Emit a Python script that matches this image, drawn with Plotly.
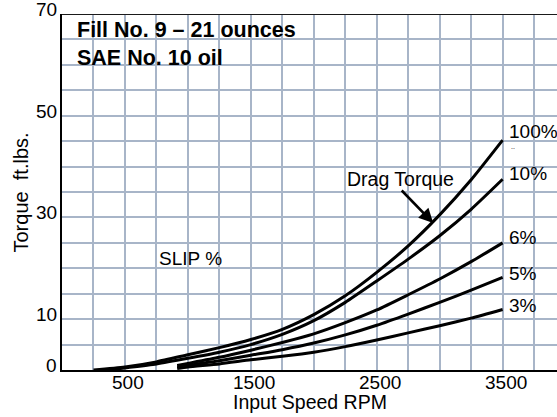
import plotly.graph_objects as go

# ---- data ----
rpm_100 = [250, 500, 750, 1000, 1250, 1500, 1750, 2000, 2250, 2500, 2750, 3000, 3250, 3500]
torque_100 = [0, 0.6, 1.6, 3.0, 4.4, 6.0, 8.0, 10.9, 14.6, 19.2, 24.4, 30.5, 37.4, 45.2]

rpm_10 = [370, 500, 750, 1000, 1250, 1500, 1750, 2000, 2250, 2500, 2750, 3000, 3250, 3500]
torque_10 = [0, 0.4, 1.2, 2.3, 3.5, 5.0, 7.0, 9.7, 13.3, 17.5, 21.8, 26.4, 31.6, 37.5]

rpm_low = [915, 1000, 1250, 1500, 1750, 2000, 2250, 2500, 2750, 3000, 3250, 3500]
torque_6 = [0.9, 1.3, 2.5, 3.9, 5.4, 7.1, 9.3, 11.8, 14.8, 17.9, 21.3, 25.0]
torque_5 = [0.6, 0.9, 1.8, 2.9, 4.0, 5.3, 6.9, 8.8, 11.0, 13.3, 15.7, 18.2]
torque_3 = [0.3, 0.6, 1.2, 2.0, 2.7, 3.5, 4.6, 5.9, 7.3, 8.7, 10.2, 11.9]

curve_labels = ["100%", "10%", "6%", "5%", "3%"]
x_tick_vals = [500, 1500, 2500, 3500]
y_tick_vals = [0, 10, 30, 50, 70]

# ---- geometry ----
W, H = 557, 417
ML, MR, MT, MB = 62, 0, 14, 47
PW, PH = W - ML - MR, H - MT - MB
X_MAX = 3932
Y_MAX = 70


def px(x):  # pixel x -> paper
    return (x - ML) / PW


def py(y):  # pixel y -> paper
    return (H - MB - y) / PH


FONT = "Liberation Sans, Arial, Helvetica, sans-serif"
GRID = "#a8b5c8"

fig = go.Figure()
series = [
    (rpm_100, torque_100),
    (rpm_10, torque_10),
    (rpm_low, torque_6),
    (rpm_low, torque_5),
    (rpm_low, torque_3),
]
for (xs, ys), name in zip(series, curve_labels):
    fig.add_trace(go.Scatter(
        x=xs, y=ys, mode="lines", name=name,
        line=dict(color="black", width=3, shape="spline", smoothing=0.6),
        hoverinfo="skip", showlegend=False,
    ))

annotations = []


def text(t, x, y, size=19, bold=False, anchor="left"):
    annotations.append(dict(
        text=f"<b>{t}</b>" if bold else t,
        xref="paper", yref="paper", x=px(x), y=py(y),
        xanchor=anchor, yanchor="middle", showarrow=False,
        font=dict(family=FONT, size=size, color="black"),
    ))


text("Fill No. 9 \u2013 21 ounces", 75, 30, size=21.5, bold=True)
text("SAE No. 10 oil", 75, 58, size=21.5, bold=True)
text("SLIP %", 157, 258)
text("Drag Torque", 345, 179, size=19.5)
label_y = [131.5, 173.5, 237.5, 273, 305]
for lab, yy in zip(curve_labels, label_y):
    text(lab, 507, yy)
text("..", 509, 146, size=7)

# tick labels (placed as text so they can sit where the reference has them)
for v in y_tick_vals:
    annotations.append(dict(
        text=str(v), xref="paper", yref="y", x=px(59), y=v, yshift=4.5,
        xanchor="right", yanchor="middle", showarrow=False,
        font=dict(family=FONT, size=19, color="black"),
    ))
for v in x_tick_vals:
    annotations.append(dict(
        text=str(v), xref="x", yref="paper", x=v, y=py(382.5), xshift=3,
        xanchor="center", yanchor="middle", showarrow=False,
        font=dict(family=FONT, size=19, color="black"),
    ))

# axis titles
annotations.append(dict(
    text="Input Speed RPM", xref="paper", yref="paper", x=px(309.5), y=py(402.5),
    xanchor="center", yanchor="middle", showarrow=False,
    font=dict(family=FONT, size=19.5, color="black"),
))
annotations.append(dict(
    text="Torque\u00a0\u00a0ft.lbs.", xref="paper", yref="paper", x=px(20.5), y=py(193),
    xanchor="center", yanchor="middle", showarrow=False, textangle=-90,
    font=dict(family=FONT, size=20, color="black"),
))

# Drag torque arrow (tip on 100% curve)
annotations.append(dict(
    text="", x=2949, y=28.9, xref="x", yref="y",
    ax=-33, ay=-34, showarrow=True,
    arrowhead=2, arrowsize=1.1, arrowwidth=2.6, arrowcolor="black", standoff=0,
))

fig.update_layout(
    width=W, height=H,
    margin=dict(l=ML, r=MR, t=MT, b=MB, pad=0, autoexpand=False),
    paper_bgcolor="white", plot_bgcolor="white",
    font=dict(family=FONT, size=19, color="black"),
    annotations=annotations,
    shapes=[dict(type="line", xref="paper", yref="y", x0=0, x1=1, y0=Y_MAX, y1=Y_MAX,
                 line=dict(color="#1a1a1a", width=2.2), layer="above")],
)
fig.update_xaxes(
    range=[0, X_MAX], tickmode="array", tickvals=x_tick_vals,
    showgrid=True, gridcolor=GRID, gridwidth=1.6,
    minor=dict(dtick=250, tick0=0, showgrid=True, gridcolor=GRID, gridwidth=1.6),
    showline=True, linecolor="black", linewidth=2, zeroline=False,
    ticks="", showticklabels=False, automargin=False,
    fixedrange=True,
)
fig.update_yaxes(
    range=[0, Y_MAX], tickmode="array", tickvals=y_tick_vals,
    showgrid=True, gridcolor=GRID, gridwidth=1.6,
    minor=dict(dtick=5, tick0=0, showgrid=True, gridcolor=GRID, gridwidth=1.6),
    showline=True, linecolor="black", linewidth=2, zeroline=False,
    ticks="", showticklabels=False, automargin=False,
    fixedrange=True,
)

fig.write_html(
    "out.html",
    config=dict(displayModeBar=False),
    post_script="document.body.style.margin='0px';document.body.style.padding='0px';document.body.style.overflow='hidden';",
)
